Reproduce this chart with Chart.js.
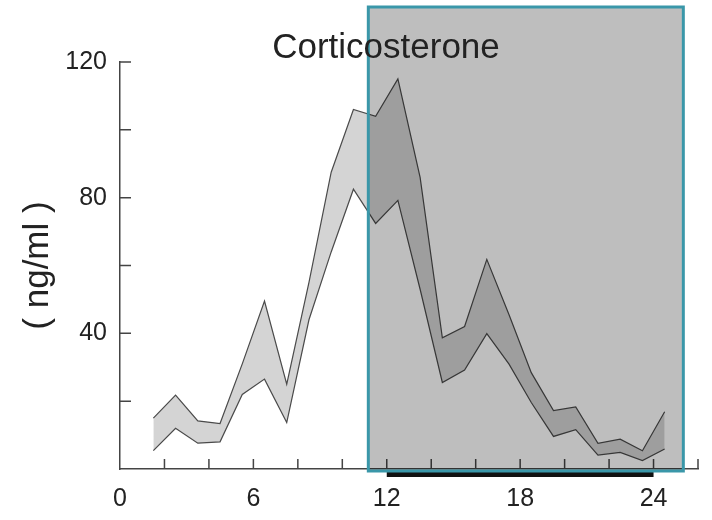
<!DOCTYPE html>
<html>
<head>
<meta charset="utf-8">
<script src="https://cdn.jsdelivr.net/npm/chart.js@4.4.1/dist/chart.umd.min.js"></script>
<style>
  body { margin: 0; background: #fff; }
  #wrap { width: 712px; height: 520px; }
</style>
</head>
<body>
<div id="wrap"><canvas id="cort" width="712" height="520"></canvas></div>
<script>
const hours = [1.5, 2.5, 3.5, 4.5, 5.5, 6.5, 7.5, 8.5, 9.5, 10.5, 11.5, 12.5,
               13.5, 14.5, 15.5, 16.5, 17.5, 18.5, 19.5, 20.5, 21.5, 22.5, 23.5, 24.5];
const upper = [15, 21.8, 14.2, 13.4, 31, 49.5, 25, 55, 87.5, 106, 104, 115,
               86, 38.7, 42, 61.8, 45.5, 28.4, 17.2, 18.3, 7.6, 8.8, 5.4, 16.9];
const lower = [5.4, 12, 7.6, 8, 22, 26.5, 13.7, 44, 64, 82.5, 72.4, 79.2,
               53, 25.5, 29.2, 39.9, 30.9, 19.6, 9.6, 11.6, 4.1, 4.9, 2.5, 5.9];
const xLabels = [0, 6, 12, 18, 24];
const yLabels = [40, 80, 120];
const darkPhase = [12, 24];      // black bar under the axis
const highlight = [11.17, 25.34]; // boxed region

const font = '"Liberation Sans", Arial, sans-serif';

// ticks inside the axes, dark phase bar, shaded box and title
const decor = {
  id: 'decor',
  afterDatasetsDraw(chart) {
    const {ctx, chartArea, scales: {x, y}} = chart;
    ctx.save();
    ctx.strokeStyle = '#444';
    ctx.lineWidth = 1.5;
    ctx.beginPath();
    x.ticks.forEach(t => {
      if (t.value === 0) return;
      const px = x.getPixelForValue(t.value);
      ctx.moveTo(px, chartArea.bottom);
      ctx.lineTo(px, chartArea.bottom - 10);
    });
    y.ticks.forEach(t => {
      if (t.value === 0) return;
      const py = y.getPixelForValue(t.value);
      ctx.moveTo(chartArea.left, py);
      ctx.lineTo(chartArea.left + 11, py);
    });
    ctx.stroke();

    const b0 = x.getPixelForValue(darkPhase[0]);
    const b1 = x.getPixelForValue(darkPhase[1]);
    ctx.fillStyle = '#111';
    ctx.fillRect(b0, chartArea.bottom + 2, b1 - b0, 6);

    const r0 = x.getPixelForValue(highlight[0]);
    const r1 = x.getPixelForValue(highlight[1]);
    const top = 7, bot = y.getPixelForValue(0) + 2;
    ctx.fillStyle = 'rgba(0,0,0,0.255)';
    ctx.fillRect(r0, top, r1 - r0, bot - top);
    ctx.strokeStyle = '#3a97a9';
    ctx.lineWidth = 3;
    ctx.strokeRect(r0, top, r1 - r0, bot - top);

    ctx.fillStyle = '#222';
    ctx.font = '35px ' + font;
    ctx.textAlign = 'center';
    ctx.textBaseline = 'alphabetic';
    ctx.fillText('Corticosterone', 386, 58);
    ctx.restore();
  }
};

new Chart(document.getElementById('cort'), {
  type: 'line',
  data: {
    datasets: [{
      label: 'lower',
      data: hours.map((h, i) => ({x: h, y: lower[i]})),
      borderColor: '#4a4a4a',
      borderWidth: 1.2,
      pointRadius: 0,
      fill: false
    }, {
      label: 'upper',
      data: hours.map((h, i) => ({x: h, y: upper[i]})),
      borderColor: '#4a4a4a',
      borderWidth: 1.2,
      pointRadius: 0,
      backgroundColor: '#d4d4d4',
      fill: '-1'
    }]
  },
  options: {
    responsive: false,
    animation: false,
    devicePixelRatio: 1,
    layout: { padding: { top: 62, right: 14, left: 0, bottom: 0 } },
    plugins: {
      legend: { display: false },
      tooltip: { enabled: false }
    },
    scales: {
      x: {
        type: 'linear',
        min: 0,
        max: 26,
        grid: { display: false },
        border: { display: true, color: '#444', width: 1.5 },
        ticks: {
          stepSize: 2,
          autoSkip: false,
          maxRotation: 0,
          padding: 7,
          color: '#222',
          font: { family: font, size: 25 },
          callback: v => xLabels.includes(v) ? String(v) : ''
        },
        afterFit: s => { s.height = 51; }
      },
      y: {
        min: 0,
        max: 120,
        grid: { display: false },
        border: { display: true, color: '#444', width: 1.5 },
        ticks: {
          stepSize: 20,
          padding: 5,
          color: '#222',
          font: { family: font, size: 25 },
          callback: v => yLabels.includes(v) ? String(v) : ''
        },
        title: {
          display: true,
          text: '( ng/ml )',
          color: '#222',
          font: { family: font, size: 35 },
          padding: { top: 17, bottom: 0 }
        },
        afterFit: s => { s.width = 120; }
      }
    }
  },
  plugins: [decor]
});
</script>
</body>
</html>
